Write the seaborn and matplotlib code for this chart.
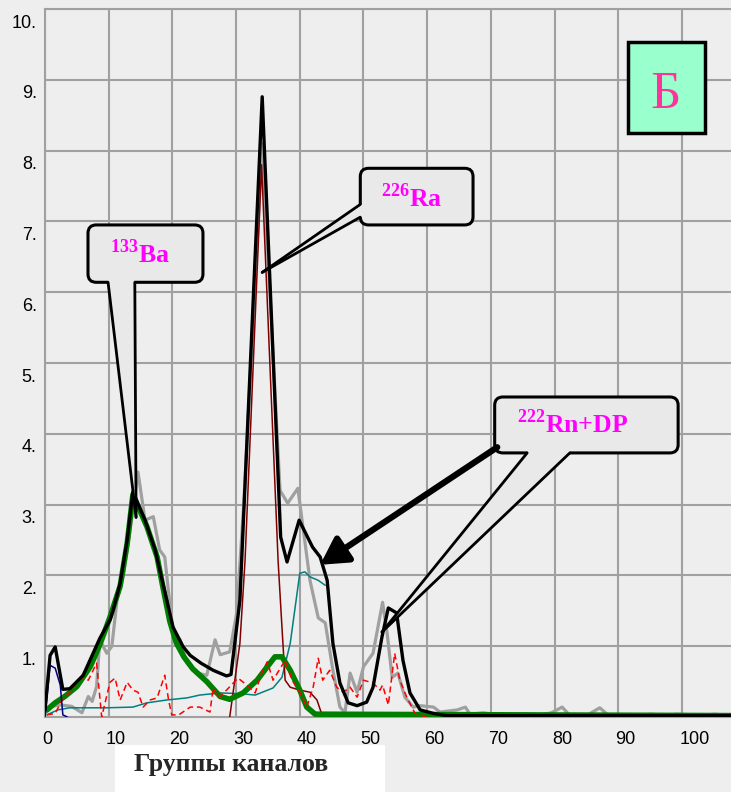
import numpy as np
import pandas as pd
import matplotlib
matplotlib.use('Agg')
import matplotlib.pyplot as plt
import matplotlib.transforms as mtransforms
from matplotlib.patches import FancyBboxPatch, Rectangle, Polygon
import seaborn as sns

# measured spectrum (gray)
gray_x = [0, 1, 2.4, 4.2, 5.8, 6.8, 7.4, 8.1, 8.6, 9.7, 10.5, 11.3, 12.3, 13.3, 14.6, 15.7, 17.0,
          18.0, 18.8, 20.1, 21.2, 22.3, 23.9, 25.4, 26.7, 27.5, 29.0, 30.1, 31.2, 34.1, 36.9, 38.1,
          39.7, 40.5, 41.6, 42.9, 44.0, 45.2, 46.3, 47.1, 47.9, 49.0, 50.0, 51.5, 53.0, 53.7, 54.5,
          55.4, 56.5, 57.8, 58.9, 61.0, 62.0, 64.7, 66.0, 66.7, 68.8, 72, 75, 78, 79.5, 81.2, 82.4,
          85, 87.1, 88.5, 94, 95, 98, 99, 104, 105, 107.7]
gray_y = [0.05, 0.15, 0.17, 0.15, 0.06, 0.29, 0.22, 0.43, 1.09, 0.9, 1.0, 1.65, 2.0, 2.6, 3.46, 2.78,
          2.83, 2.36, 2.26, 1.19, 1.09, 0.76, 0.62, 0.59, 1.09, 0.88, 0.92, 1.47, 3.0, 8.1, 3.2, 3.02,
          3.23, 2.68, 1.93, 1.4, 1.33, 0.66, 0.14, 0.06, 0.62, 0.35, 0.71, 0.9, 1.62, 1.19, 0.56,
          0.62, 0.28, 0.14, 0.16, 0.14, 0.07, 0.1, 0.14, 0.04, 0.06, 0.02, 0.04, 0.03, 0.06, 0.14,
          0.02, 0.02, 0.13, 0.02, 0.02, 0.04, 0.02, 0.04, 0.02, 0.04, 0.02]

# total fit (black)
black_x = [0, 0.8, 1.6, 2.8, 3.9, 6.0, 8.6, 10.2, 10.7, 11.8, 12.9, 13.8, 15.7, 17.3, 18.5, 20.1,
           21.7, 22.8, 24.5, 26.4, 28.5, 29.2, 30.6, 34.1, 37.0, 38.0, 39.9, 42.0, 43.2, 44.3,
           45.2, 46.3, 47.6, 49.0, 50.5, 51.5, 52.9, 53.9, 55.2, 56.2, 57.3, 58.9, 61, 63, 107.7]
black_y = [0.1, 0.87, 0.99, 0.39, 0.4, 0.59, 1.11, 1.37, 1.51, 1.89, 2.5, 3.18, 2.78, 2.36, 1.89,
           1.27, 0.99, 0.87, 0.76, 0.66, 0.58, 0.6, 1.65, 8.76, 2.54, 2.19, 2.78, 2.4, 2.26, 1.93,
           1.04, 0.48, 0.2, 0.16, 0.21, 0.42, 1.13, 1.54, 1.47, 0.8, 0.34, 0.1, 0.05, 0.02, 0.02]

# 133Ba component (green)
green_x = [0.3, 1.6, 3.1, 5.0, 7.1, 8.6, 10.2, 11.8, 12.9, 13.8, 16.0, 17.6, 18.5, 19.6, 20.6,
           21.8, 23.2, 25.4, 27.5, 29.0, 31.1, 33.3, 34.9, 36.1, 37.2, 38.5, 40.0, 41.1, 42.4, 107.7]
green_y = [0.1, 0.2, 0.29, 0.43, 0.71, 1.02, 1.41, 1.85, 2.45, 3.14, 2.69, 2.26, 1.84, 1.35, 1.05,
           0.85, 0.68, 0.5, 0.29, 0.25, 0.34, 0.52, 0.71, 0.85, 0.85, 0.66, 0.38, 0.14, 0.04, 0.02]

# 226Ra component (dark red)
dred_x = [29.0, 30.6, 31.4, 34.0, 36.6, 37.2, 37.7, 38.5, 40.0, 41.6, 42.7, 43.6]
dred_y = [0.0, 1.04, 2.2, 7.8, 2.2, 1.27, 0.52, 0.42, 0.38, 0.35, 0.24, 0.0]

# 222Rn+DP component (teal)
teal_x = [0.3, 2.0, 3.9, 9.7, 13.8, 16.0, 19.1, 22.3, 24.3, 27.5, 30.6, 33.0, 35.8, 37.2, 38.5,
          40.0, 40.8, 41.6, 42.9, 44.0]
teal_y = [0.03, 0.1, 0.13, 0.13, 0.14, 0.2, 0.24, 0.27, 0.31, 0.34, 0.33, 0.31, 0.41, 0.56, 1.04,
          2.03, 2.05, 1.98, 1.93, 1.86]

# residual (red dashed)
red_x = [0.3, 1.6, 2.7, 3.9, 5.2, 6.0, 6.8, 8.1, 8.9, 10.2, 11.0, 11.8, 12.9, 13.8, 14.6, 15.4,
         16.5, 17.6, 18.8, 19.4, 19.9, 21.0, 22.8, 24.3, 25.9, 26.4, 27.2, 28.5, 30.3, 31.7, 33.0,
         34.0, 34.9, 35.8, 37.7, 38.8, 40.0, 41.1, 42.1, 42.9, 43.6, 44.7, 45.8, 46.8, 47.9, 49.0,
         50.0, 51.5, 52.6, 53.0, 53.9, 54.9, 55.7, 56.8, 58.1, 60.0]
red_y = [0.03, 0.05, 0.24, 0.35, 0.52, 0.56, 0.52, 0.76, 0.0, 0.49, 0.55, 0.24, 0.49, 0.38, 0.35,
         0.14, 0.24, 0.27, 0.59, 0.24, 0.03, 0.03, 0.14, 0.14, 0.07, 0.41, 0.27, 0.38, 0.55, 0.45,
         0.34, 0.62, 0.78, 0.52, 0.8, 0.52, 0.35, 0.14, 0.42, 0.83, 0.52, 0.66, 0.42, 0.35, 0.42,
         0.28, 0.52, 0.48, 0.38, 0.45, 0.17, 0.9, 0.52, 0.28, 0.05, 0.0]

# small low-energy component (navy)
navy_x = [0, 0.8, 1.6, 2.4, 2.8, 3.5]
navy_y = [0.0, 0.73, 0.69, 0.45, 0.03, 0.0]

x_ticks = [0, 10, 20, 30, 40, 50, 60, 70, 80, 90, 100]
y_ticks = [1, 2, 3, 4, 5, 6, 7, 8, 9, 10]
y_labels = [f'{v}.' for v in y_ticks]

bg = '#eeeeee'
gridc = '#a0a0a0'

sns.set_theme(style='whitegrid')
plt.rcParams['font.family'] = ['Liberation Sans', 'DejaVu Sans']
plt.rcParams['mathtext.fontset'] = 'custom'
plt.rcParams['mathtext.rm'] = 'Liberation Serif'
plt.rcParams['mathtext.bf'] = 'Liberation Serif:bold'

fig = plt.figure(figsize=(7.31, 7.92), dpi=100, facecolor=bg)
ax = fig.add_axes([45 / 731, 75 / 792, 686 / 731, 708 / 792])
ax.set_facecolor(bg)
ax.set_xlim(0, 107.7)
ax.set_ylim(0, 10)

def curve(x, y, color, lw, ls='-', z=2):
    df = pd.DataFrame({'x': x, 'y': y})
    sns.lineplot(data=df, x='x', y='y', ax=ax, color=color, lw=lw, linestyle=ls,
                 sort=False, estimator=None, zorder=z)

curve(gray_x, gray_y, '#a0a0a0', 2.3, z=2)
curve(teal_x, teal_y, '#008080', 1.1, z=3)
curve(dred_x, dred_y, '#800000', 1.1, z=3)
curve(green_x, green_y, '#008000', 4.0, z=4)
curve(red_x, red_y, '#ff0000', 1.1, ls=(0, (4, 2.5)), z=5)
curve(navy_x, navy_y, '#000080', 1.1, z=5)
curve(black_x, black_y, 'black', 2.4, z=6)

ax.set_xticks(x_ticks)
ax.set_yticks(y_ticks)
ax.set_yticklabels(y_labels)
ax.set_xlabel('')
ax.set_ylabel('')
ax.grid(True, color=gridc, lw=1.5)
ax.tick_params(axis='both', length=0, labelsize=13, colors='black')
ax.tick_params(axis='y', pad=6)
ax.tick_params(axis='x', pad=10)
for lbl in ax.get_yticklabels():
    lbl.set_va('top')
    lbl.set_transform(lbl.get_transform() + mtransforms.ScaledTranslation(0, -4 / 72, fig.dpi_scale_trans))
for lbl in ax.get_xticklabels():
    lbl.set_ha('left')
    lbl.set_transform(lbl.get_transform() + mtransforms.ScaledTranslation(-2 / 72, 0, fig.dpi_scale_trans))
for s in ['left', 'top', 'bottom']:
    ax.spines[s].set_color(gridc)
    ax.spines[s].set_linewidth(1.5)
ax.spines['right'].set_visible(False)

# callouts
asp = 6.37 / 70.8
box_fc = '#e9e9e9'

def callout(x0, x1, y0, y1, base_pts, inner_pts, tip, label, tx, ty):
    box = FancyBboxPatch((x0, y0), x1 - x0, y1 - y0,
                         boxstyle='round,pad=0,rounding_size=1.3', mutation_aspect=asp,
                         fc=box_fc, ec='black', lw=2.2, zorder=7)
    ax.add_patch(box)
    poly = Polygon([inner_pts[0], base_pts[0], tip, base_pts[1], inner_pts[1]],
                   closed=True, fc=box_fc, ec='none', zorder=8)
    ax.add_patch(poly)
    for b in base_pts:
        ax.plot([b[0], tip[0]], [b[1], tip[1]], color='black', lw=2.0, zorder=9,
                solid_capstyle='round')
    ax.text(tx, ty, label, color='#ff00ff', fontsize=18.5, ha='center', va='baseline', zorder=10)

callout(6.75, 24.8, 6.14, 6.95, [(9.9, 6.14), (14.1, 6.14)], [(10.2, 6.3), (13.8, 6.3)],
        (14.3, 2.82), r'$^{\mathbf{133}}\mathbf{Ba}$', 14.9, 6.41)
callout(49.5, 67.2, 6.95, 7.75, [(49.5, 7.24), (49.5, 7.06)], [(50.3, 7.24), (50.3, 7.06)],
        (34.1, 6.28), r'$^{\mathbf{226}}\mathbf{Ra}$', 57.5, 7.2)
callout(70.6, 99.4, 3.73, 4.52, [(75.7, 3.73), (82.4, 3.73)], [(76.0, 3.9), (82.1, 3.9)],
        (52.9, 1.2), r'$^{\mathbf{222}}\mathbf{Rn{+}DP}$', 82.9, 4.01)

ax.annotate('', xy=(43.2, 2.15), xytext=(71.0, 3.81),
            arrowprops=dict(arrowstyle='-|>,head_length=0.8,head_width=0.45', lw=4.5,
                            color='black', shrinkA=0, shrinkB=0, mutation_scale=20), zorder=9)

# panel letter
ax.add_patch(Rectangle((91.5, 8.25), 12.1, 1.28, fc='#99ffcc', ec='black', lw=2.5, zorder=7))
ax.text(97.5, 8.6, 'Б', color='#ff3399', fontsize=38, family='Liberation Serif',
        ha='center', va='baseline', zorder=8)

# x axis title in white box
fig.patches.append(Rectangle((115 / 731, 0), 270 / 731, 47 / 792, transform=fig.transFigure,
                             fc='white', ec='none', zorder=5))
fig.text(231 / 731, 27 / 792, 'Группы каналов', fontsize=18.5, fontweight='bold',
         family='Liberation Serif', ha='center', va='center', zorder=6)

fig.savefig('out.png', dpi=100, facecolor=bg)
